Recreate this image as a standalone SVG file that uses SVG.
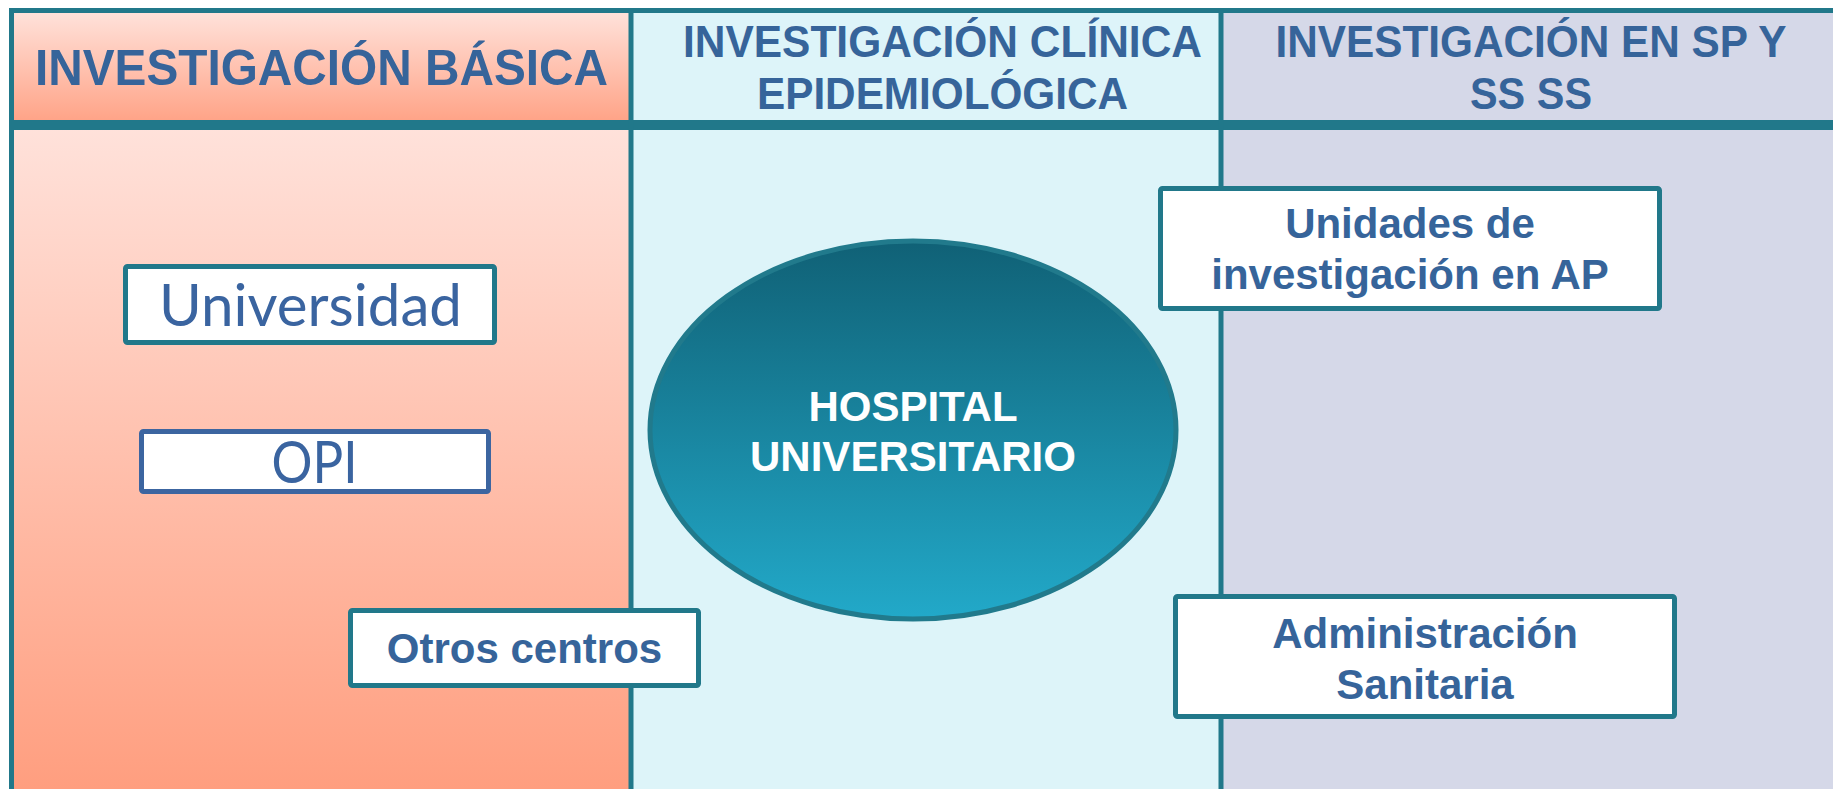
<svg xmlns="http://www.w3.org/2000/svg" width="1833" height="789" viewBox="0 0 1833 789">
<defs>
<linearGradient id="gHead1" x1="0" y1="0" x2="0" y2="1"><stop offset="0" stop-color="#FFE3DC"/><stop offset="1" stop-color="#FFA184"/></linearGradient>
<linearGradient id="gBody1" x1="0" y1="0" x2="0" y2="1"><stop offset="0" stop-color="#FFE2DB"/><stop offset="1" stop-color="#FF9E7F"/></linearGradient>
<linearGradient id="gEll" x1="0" y1="0" x2="0" y2="1"><stop offset="0" stop-color="#106176"/><stop offset="1" stop-color="#22A9C9"/></linearGradient>
<style>
.frame{stroke:#21788A;fill:none}
.hdr{font-family:"Liberation Sans",Arial,sans-serif;font-weight:bold;fill:#36649A;text-anchor:middle}
.box{fill:#FFFFFF;stroke:#21788A;stroke-width:5}
.lbl{font-family:"Liberation Sans",Arial,sans-serif;font-weight:bold;font-size:42px;fill:#36649A;text-anchor:middle}
.big{font-family:Lato,"Open Sans",sans-serif;font-size:59px;fill:#3A64A0;text-anchor:middle}
.hosp{font-family:"Liberation Sans",Arial,sans-serif;font-weight:bold;font-size:42px;fill:#FFFFFF;text-anchor:middle}
</style>
</defs>
<rect width="1833" height="789" fill="#FFFFFF"/>
<g id="lanes">
<rect x="11" y="10" width="620" height="115" fill="url(#gHead1)"/>
<rect x="631" y="10" width="590" height="115" fill="#DDF4F9"/>
<rect x="1221" y="10" width="612" height="115" fill="#D5D8E8"/>
<rect x="11" y="125" width="620" height="664" fill="url(#gBody1)"/>
<rect x="631" y="125" width="590" height="664" fill="#DDF4F9"/>
<rect x="1221" y="125" width="612" height="664" fill="#D5D8E8"/>
<line class="frame" x1="9" y1="10.5" x2="1833" y2="10.5" stroke-width="5"/>
<line class="frame" x1="9" y1="125" x2="1833" y2="125" stroke-width="10"/>
<line class="frame" x1="11.5" y1="8" x2="11.5" y2="789" stroke-width="5"/>
<line class="frame" x1="631" y1="8" x2="631" y2="789" stroke-width="5"/>
<line class="frame" x1="1221" y1="8" x2="1221" y2="789" stroke-width="5"/>
<text class="hdr" x="321.5" y="85" font-size="50" textLength="573" lengthAdjust="spacingAndGlyphs">INVESTIGACIÓN BÁSICA</text>
<text class="hdr" x="942.5" y="57" font-size="45" textLength="519" lengthAdjust="spacingAndGlyphs">INVESTIGACIÓN CLÍNICA</text>
<text class="hdr" x="942.5" y="109" font-size="45" textLength="371" lengthAdjust="spacingAndGlyphs">EPIDEMIOLÓGICA</text>
<text class="hdr" x="1531" y="57" font-size="45" textLength="511" lengthAdjust="spacingAndGlyphs">INVESTIGACIÓN EN SP Y</text>
<text class="hdr" x="1531" y="109" font-size="45" textLength="122" lengthAdjust="spacingAndGlyphs">SS SS</text>
</g>
<g id="connectors"/>
<g id="universidad">
<rect class="box" x="125.5" y="266.5" width="369" height="76" rx="2"/>
<text class="big" x="310.5" y="326" textLength="303" lengthAdjust="spacingAndGlyphs">Universidad</text>
</g>
<g id="opi">
<rect class="box" x="141.5" y="431.5" width="347" height="60" rx="2" style="stroke:#3C65A0"/>
<text class="big" x="314.5" y="483" textLength="86" lengthAdjust="spacingAndGlyphs">OPI</text>
</g>
<g id="otros-centros">
<rect class="box" x="350.5" y="610.5" width="348" height="75" rx="2"/>
<text class="lbl" x="524.5" y="663">Otros centros</text>
</g>
<g id="hospital">
<ellipse cx="913" cy="430" rx="263" ry="189" fill="url(#gEll)" stroke="#217A8C" stroke-width="5"/>
<text class="hosp" x="913" y="421">HOSPITAL</text>
<text class="hosp" x="913" y="471">UNIVERSITARIO</text>
</g>
<g id="unidades-ap">
<rect class="box" x="1160.5" y="188.5" width="499" height="120" rx="2"/>
<text class="lbl" x="1410" y="238">Unidades de</text>
<text class="lbl" x="1410" y="289">investigación en AP</text>
</g>
<g id="administracion">
<rect class="box" x="1175.5" y="596.5" width="499" height="120" rx="2"/>
<text class="lbl" x="1425" y="648">Administración</text>
<text class="lbl" x="1425" y="699">Sanitaria</text>
</g>
</svg>
